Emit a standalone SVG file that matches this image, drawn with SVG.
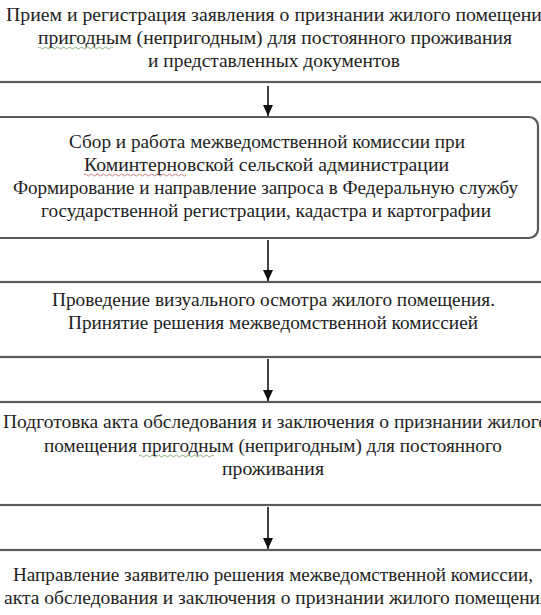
<svg xmlns="http://www.w3.org/2000/svg" width="541" height="615" viewBox="0 0 541 615">
<style>
.box{fill:#fff;stroke:#5a5a5a;stroke-width:2.2}
.t{font-family:"Liberation Serif","Times New Roman",serif;font-size:18px;fill:#1e1e1e}
.conn{stroke:#111;stroke-width:1.6;fill:none}
.wave{fill:none;stroke-width:0.8}
</style>
<defs>
<marker id="ah" markerWidth="11" markerHeight="10" refX="11" refY="5" orient="auto" markerUnits="userSpaceOnUse" viewBox="0 0 11 10">
<path d="M0,0 L11,5 L0,10 Z" fill="#111"/>
</marker>
</defs>
<rect width="541" height="615" fill="#fff"/>
<g id="connectors">
<line class="conn" x1="268" y1="86" x2="268" y2="116" marker-end="url(#ah)"/>
<line class="conn" x1="268" y1="240" x2="268" y2="281" marker-end="url(#ah)"/>
<line class="conn" x1="268" y1="359" x2="268" y2="401" marker-end="url(#ah)"/>
<line class="conn" x1="268" y1="507" x2="268" y2="549" marker-end="url(#ah)"/>
</g>
<g id="node1">
<rect class="box" x="-20" y="-40" width="581" height="122"/>
<text class="t" x="6" y="21" textLength="545" lengthAdjust="spacingAndGlyphs">Прием и регистрация заявления о признании жилого помещения</text>
<text class="t" x="38" y="44" textLength="474" lengthAdjust="spacingAndGlyphs">пригодным (непригодным) для  постоянного проживания</text>
<text class="t" x="148" y="67" textLength="252" lengthAdjust="spacingAndGlyphs">и представленных документов</text>
<path class="wave" stroke="#6a9a5a" d="M38,48 q1.5,-2 3,0 t3,0 t3,0 t3,0 t3,0 t3,0 t3,0 t3,0 t3,0 t3,0 t3,0 t3,0 t3,0 t3,0 t3,0 t3,0 t3,0 t3,0 t3,0 t3,0 t3,0 t3,0 t3,0 t3,0 t3,0"/>
</g>
<g id="node2">
<rect class="box" x="-20" y="117" width="558" height="121" rx="9"/>
<text class="t" x="69" y="148" textLength="396" lengthAdjust="spacingAndGlyphs">Сбор и работа межведомственной комиссии при</text>
<text class="t" x="84" y="171" textLength="365" lengthAdjust="spacingAndGlyphs">Коминтерновской сельской администрации</text>
<text class="t" x="13" y="194" textLength="505" lengthAdjust="spacingAndGlyphs">Формирование и направление запроса в Федеральную службу</text>
<text class="t" x="41" y="217" textLength="450" lengthAdjust="spacingAndGlyphs">государственной регистрации, кадастра и картографии</text>
<path class="wave" stroke="#c06060" d="M84,175 q1.5,-2 3,0 t3,0 t3,0 t3,0 t3,0 t3,0 t3,0 t3,0 t3,0 t3,0 t3,0 t3,0 t3,0 t3,0 t3,0 t3,0 t3,0 t3,0 t3,0 t3,0 t3,0 t3,0 t3,0 t3,0 t3,0 t3,0 t3,0 t3,0 t3,0 t3,0 t3,0 t3,0 t3,0 t3,0"/>
</g>
<g id="node3">
<rect class="box" x="-20" y="282" width="581" height="75"/>
<text class="t" x="52" y="306" textLength="443" lengthAdjust="spacingAndGlyphs">Проведение визуального осмотра жилого помещения.</text>
<text class="t" x="68" y="329" textLength="410" lengthAdjust="spacingAndGlyphs">Принятие решения межведомственной комиссией</text>
</g>
<g id="node4">
<rect class="box" x="-20" y="402" width="581" height="103"/>
<text class="t" x="3" y="428" textLength="545" lengthAdjust="spacingAndGlyphs">Подготовка акта обследования и заключения о признании жилого</text>
<text class="t" x="44" y="452" textLength="458" lengthAdjust="spacingAndGlyphs">помещения пригодным (непригодным) для постоянного</text>
<text class="t" x="222" y="475" textLength="102" lengthAdjust="spacingAndGlyphs">проживания</text>
<path class="wave" stroke="#6a9a5a" d="M139,456 q1.5,-2 3,0 t3,0 t3,0 t3,0 t3,0 t3,0 t3,0 t3,0 t3,0 t3,0 t3,0 t3,0 t3,0 t3,0 t3,0 t3,0 t3,0 t3,0 t3,0 t3,0 t3,0 t3,0 t3,0 t3,0 t3,0"/>
</g>
<g id="node5">
<rect class="box" x="-20" y="550" width="581" height="100"/>
<text class="t" x="13" y="581" textLength="520" lengthAdjust="spacingAndGlyphs">Направление заявителю решения межведомственной комиссии,</text>
<text class="t" x="4" y="604" textLength="545" lengthAdjust="spacingAndGlyphs">акта обследования и заключения о признании жилого помещения</text>
</g>
</svg>
